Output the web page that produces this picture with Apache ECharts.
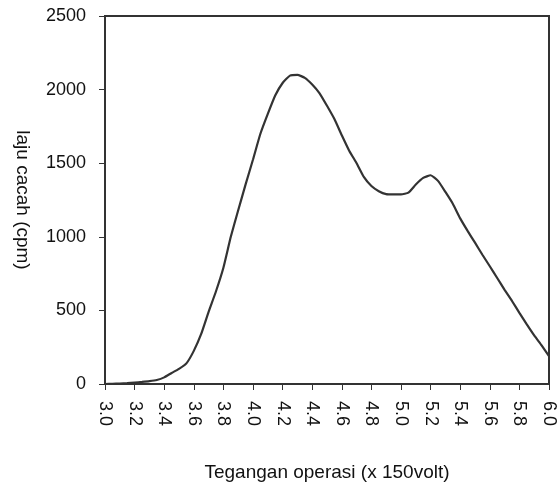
<!DOCTYPE html>
<html>
<head>
<meta charset="utf-8">
<script src="https://cdn.jsdelivr.net/npm/echarts@6/dist/echarts.min.js"></script>
<style>
  html, body { margin: 0; padding: 0; background: #fff; }
  #chart { width: 558px; height: 487px; }
</style>
</head>
<body>
<div id="chart"></div>
<script>
// tegangan operasi (x 150 volt)
const voltage = [
  3.00, 3.05, 3.10, 3.15, 3.20, 3.25, 3.30, 3.35, 3.40, 3.45,
  3.50, 3.55, 3.60, 3.65, 3.70, 3.75, 3.80, 3.85, 3.90, 3.95,
  4.00, 4.05, 4.10, 4.15, 4.20, 4.25, 4.30, 4.35, 4.40, 4.45,
  4.50, 4.55, 4.60, 4.65, 4.70, 4.75, 4.80, 4.85, 4.90, 4.95,
  5.00, 5.05, 5.10, 5.15, 5.20, 5.25, 5.30, 5.35, 5.40, 5.45,
  5.50, 5.55, 5.60, 5.65, 5.70, 5.75, 5.80, 5.85, 5.90, 5.95,
  6.00
];
// laju cacah (cpm)
const countRate = [
  0, 1, 3, 6, 10, 14, 19, 27, 45, 75,
  103, 140, 225, 340, 490, 630, 790, 1000, 1180, 1356,
  1525, 1700, 1835, 1960, 2045, 2095, 2100, 2080, 2035, 1975,
  1890, 1800, 1690, 1585, 1500, 1405, 1345, 1310, 1290, 1288,
  1288, 1300, 1355, 1400, 1418, 1380, 1305, 1225, 1125, 1040,
  960, 878, 800, 720, 640, 564, 483, 405, 330, 262,
  190
];
const yTicks = [0, 500, 1000, 1500, 2000, 2500];

const AXIS_COLOR = '#333';
const FONT = '"Liberation Sans", Arial, sans-serif';
const TICK_TEXT = { fontFamily: FONT, fontSize: 18, color: '#111' };
const NAME_TEXT = { fontFamily: FONT, fontSize: 19, color: '#111' };

const chart = echarts.init(document.getElementById('chart'));

chart.setOption({
  animation: false,
  textStyle: TICK_TEXT,
  grid: {
    left: 105, right: 9, top: 16, bottom: 101,
    show: true, borderColor: AXIS_COLOR, borderWidth: 2,
  },
  xAxis: {
    type: 'value',
    min: 3.0,
    max: 6.0,
    interval: 0.2,
    name: 'Tegangan operasi (x 150volt)',
    nameLocation: 'middle',
    nameGap: 79,
    nameTextStyle: NAME_TEXT,
    axisLine: { lineStyle: { color: AXIS_COLOR, width: 2 } },
    axisTick: { show: true, length: 6, lineStyle: { color: AXIS_COLOR, width: 1 } },
    axisLabel: {
      ...TICK_TEXT,
      rotate: -90,
      margin: 17,
      formatter: v => v.toFixed(1),
    },
    splitLine: { show: false },
  },
  yAxis: {
    type: 'value',
    min: yTicks[0],
    max: yTicks[yTicks.length - 1],
    interval: yTicks[1] - yTicks[0],
    name: 'laju cacah (cpm)',
    nameLocation: 'middle',
    nameRotate: -90,
    nameGap: 73,
    nameTextStyle: NAME_TEXT,
    axisLine: { show: true, lineStyle: { color: AXIS_COLOR, width: 2 } },
    axisTick: { show: true, length: 6, lineStyle: { color: AXIS_COLOR, width: 1 } },
    axisLabel: { ...TICK_TEXT, margin: 19, formatter: v => String(v) },
    splitLine: { show: false },
  },
  series: [{
    type: 'line',
    data: voltage.map((v, i) => [v, countRate[i]]),
    smooth: 0.15,
    symbol: 'none',
    lineStyle: { color: AXIS_COLOR, width: 2.2 },
  }],
});
</script>
</body>
</html>
